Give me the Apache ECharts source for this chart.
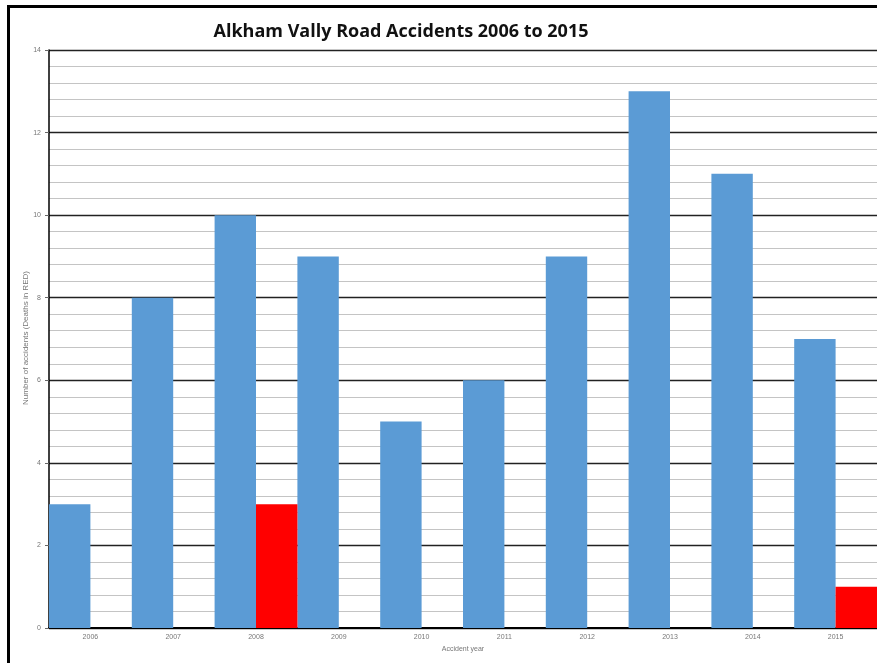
<!DOCTYPE html>
<html>
<head>
<meta charset="utf-8">
<script src="https://cdn.jsdelivr.net/npm/echarts@6/dist/echarts.min.js"></script>
<style>
html,body{margin:0;padding:0;background:#fff;}
#c{width:877px;height:663px;}
</style>
</head>
<body>
<div id="c"></div>
<script>
const titleText = 'Alkham Vally Road Accidents 2006 to 2015';
const years = ['2006','2007','2008','2009','2010','2011','2012','2013','2014','2015'];
const accidents = [3, 8, 10, 9, 5, 6, 9, 13, 11, 7];
const deaths = [0, 0, 3, 0, 0, 0, 0, 0, 0, 1];
const yAxisTitle = 'Number of accidents (Deaths in RED)';
const xAxisTitle = 'Accident year';

const chart = echarts.init(document.getElementById('c'), null, {renderer:'canvas'});
chart.setOption({
  animation: false,
  backgroundColor: '#fff',
  title: {
    text: titleText,
    left: 396, top: 18, textAlign: 'center',
    textStyle: {fontFamily: 'Open Sans', fontWeight: 'bold', fontSize: 18, color: '#111'}
  },
  graphic: [{
    type: 'rect', silent: true, z: 100,
    shape: {x: 8.5, y: 6.5, width: 1000, height: 1000},
    style: {fill: 'none', stroke: '#000', lineWidth: 3}
  }, {
    type: 'text', silent: true, x: 26, y: 338, rotation: Math.PI / 2,
    style: {text: yAxisTitle, fontSize: 8, fill: '#777', fontFamily: 'Liberation Sans',
            textAlign: 'center', textVerticalAlign: 'middle'}
  }],
  grid: {left: 49, right: -2, top: 50, bottom: 35, containLabel: false},
  xAxis: {
    type: 'category', data: years,
    name: xAxisTitle, nameLocation: 'middle', nameGap: 17,
    nameTextStyle: {fontSize: 7, color: '#777', fontFamily: 'Liberation Sans'},
    axisLine: {lineStyle: {color: '#000', width: 2}},
    axisTick: {show: false},
    axisLabel: {fontSize: 7, color: '#777', margin: 6, fontFamily: 'Liberation Sans'}
  },
  yAxis: {
    type: 'value', min: 0, max: 14, interval: 2,
    axisLine: {show: true, lineStyle: {color: '#000', width: 1.5}},
    axisTick: {show: true, length: 4, lineStyle: {color: '#666'}},
    axisLabel: {fontSize: 7, color: '#777', margin: 8, fontFamily: 'Liberation Sans'},
    splitLine: {show: true, lineStyle: {color: '#222', width: 1.3}},
    minorTick: {show: false, splitNumber: 5},
    minorSplitLine: {show: true, lineStyle: {color: '#c4c4c4', width: 1}}
  },
  series: [
    {type: 'bar', data: accidents, barGap: '0%', barCategoryGap: '0%',
     itemStyle: {color: '#5b9bd5'}},
    {type: 'bar', data: deaths, barGap: '0%', barCategoryGap: '0%',
     itemStyle: {color: '#ff0000'}}
  ]
});
</script>
</body>
</html>
